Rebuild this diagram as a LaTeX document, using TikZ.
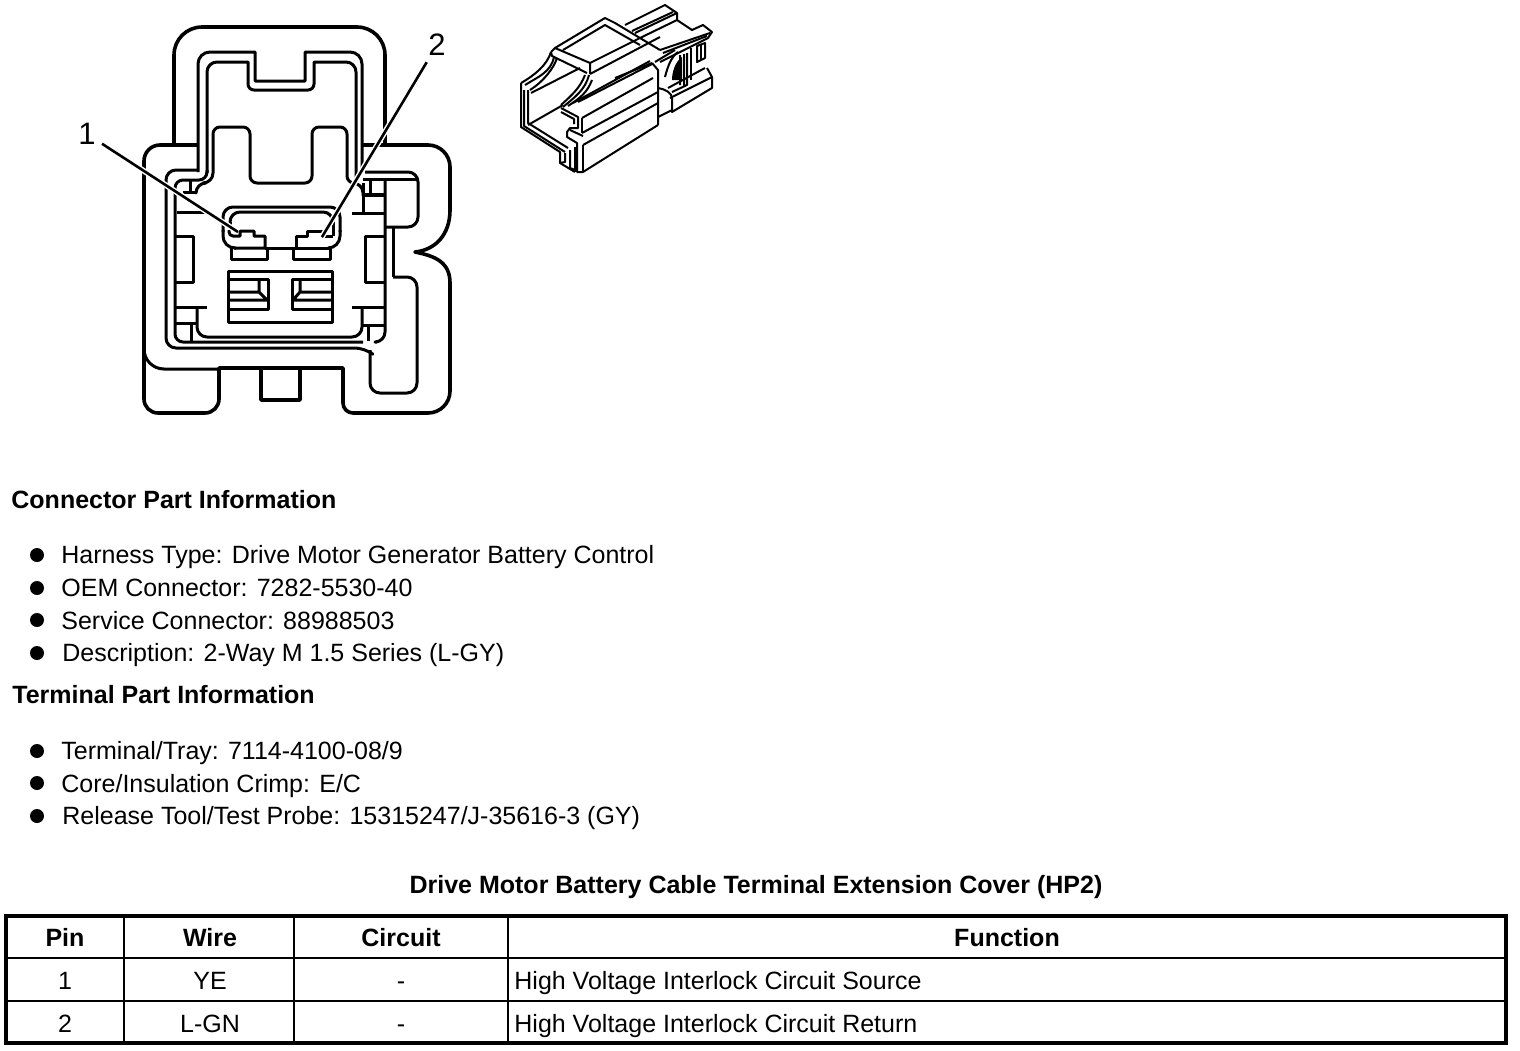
\documentclass[tikz,border=0pt]{standalone}
\usepackage{fontspec}
\setmainfont{Liberation Sans}
\tikzset{
  heavy/.style={line width=1.8pt,line join=round},
  medium/.style={line width=1.5pt,line join=round},
  fine/.style={line width=1pt,line join=round},
  leader/.style={line width=1.3pt,preaction={draw=white,line width=2.8pt}},
  lbl/.style={inner sep=3pt,font=\fontsize{15.5}{18}\selectfont},
  txt/.style={anchor=base west,inner sep=0pt,font=\fontsize{12.5}{14}\selectfont},
  hdr/.style={anchor=base west,inner sep=0pt,font=\bfseries\fontsize{12.5}{14}\selectfont},
  cell/.style={anchor=base,inner sep=0pt,font=\fontsize{12.5}{14}\selectfont},
  headcell/.style={anchor=base,inner sep=0pt,font=\bfseries\fontsize{12.5}{14}\selectfont},
  dot/.style={circle,fill=black,inner sep=0pt,minimum size=7pt},
}
\begin{document}
\begin{tikzpicture}[x=0.5pt,y=-0.5pt]
  \useasboundingbox (0,0) rectangle (1520,1050);

  % housing outline
  \draw[heavy,rounded corners=14pt] (174,143) -- (174,27) -- (385,27) -- (385,143);
  \draw[heavy] (198,145) [rounded corners=8pt] -- (144,145) [rounded corners=7pt] -- (144,413) -- (219,413)
     [sharp corners] -- (219,368) -- (343,368) [rounded corners=5pt] -- (343,413) [rounded corners=11pt] -- (450,413) -- (450,283);
  \draw[heavy] (450,283) .. controls (450,262) and (435,256) .. (415,252)
     .. controls (435,250) and (450,235) .. (450,210);
  \draw[heavy,rounded corners=11pt] (450,210) -- (450,145) -- (362,145);
  \draw[heavy] (261,368) -- (261,400) -- (300,400) -- (300,368);
  \draw[medium,rounded corners=10pt] (144,345) -- (144,369) -- (219,369);

  % double walls
  \draw[medium] (198,172) [rounded corners=6pt] -- (198,52) [sharp corners] -- (255,52) -- (255,81) -- (305,81)
     -- (305,52) [rounded corners=6pt] -- (362,52) -- (362,172);
  \draw[medium,rounded corners=5pt] (198,170) -- (166,170) -- (166,348) -- (365,348) [sharp corners] -- (370,352);
  \draw[medium] (207,173) [rounded corners=5pt] -- (207,62) [sharp corners] -- (248,62) [rounded corners=3pt] -- (248,90) -- (314,90)
     [sharp corners] -- (314,62) [rounded corners=5pt] -- (356,62) -- (356,178);
  \draw[medium,rounded corners=4pt] (207,170) -- (207,180) -- (175,180) -- (175,342) -- (363,342);
  \draw[medium,rounded corners=5pt] (377,342) -- (385,342) -- (385,179);
  \draw[medium] (370,350) [rounded corners=5pt] -- (370,393) -- (417,393) -- (417,277) -- (393,277);
  \draw[medium] (385,227) [rounded corners=5pt] -- (418,227) -- (418,172) [sharp corners] -- (365,172);
  \draw[medium] (363,179) -- (418,179);
  \draw[medium] (393,227) -- (393,277);

  % inner shell
  \draw[medium,rounded corners=5pt] (197,307) -- (197,337) -- (362,337) -- (362,307);
  \draw[medium] (196,192) [rounded corners=5pt] -- (196,183) -- (213,183) [rounded corners=3.5pt] -- (213,127) -- (250,127)
     -- (250,183) -- (312,183) -- (312,127) -- (347,127) -- (347,183) [rounded corners=5pt] -- (363,183) -- (363,196);

  % ribs
  \draw[medium] (190,180) -- (190,192) (183,192) -- (196,192) (177,212) -- (207,212);
  \draw[medium] (363,183) -- (363,213) (370,179) -- (370,195) (352,213) -- (385,213);
  \draw[line width=2pt] (363,195) -- (385,195);
  \draw[medium] (175,236) -- (193,236) -- (193,282) -- (175,282);
  \draw[medium] (385,236) -- (365,236) -- (365,282) -- (385,282);
  \draw[medium] (175,307) -- (207,307) (175,323) -- (197,323) (191,323) -- (191,341);
  \draw[medium] (352,307) -- (385,307) (363,325) -- (385,325) (368,325) -- (368,341);

  % pin cavities
  \draw[medium,rounded corners=5pt] (223,232) -- (223,207) -- (340,207) -- (340,232);
  \draw[medium,rounded corners=5pt] (230,223) -- (230,212) -- (333,212) -- (333,223);
  \draw[medium] (230,222) -- (230,230) (333,222) -- (333,236);
  \draw[medium,rounded corners=6pt] (223,230) -- (223,248) -- (236,248);
  \draw[medium,rounded corners=6pt] (340,230) -- (340,248) -- (328,248);
  \draw[medium] (229,230) [rounded corners=2pt] -- (229,236) [sharp corners] -- (240,236) -- (240,231) -- (254,231) -- (254,236) -- (265,236) -- (265,248) -- (234,248);
  \draw[medium] (333,236) -- (322,236) -- (322,231) -- (307,231) -- (307,236) -- (296,236) -- (296,248) -- (330,248);
  \draw[medium] (265,248) -- (297,248);
  \draw[medium] (231,248) -- (231,259) -- (267,259) -- (267,248);
  \draw[medium] (293,248) -- (293,259) -- (330,259) -- (330,248);

  % latch block
  \draw[medium] (228,271) rectangle (332,322);
  \draw[medium] (228,279) -- (268,279) -- (268,309) -- (228,309);
  \draw[medium] (332,279) -- (292,279) -- (292,309) -- (332,309);
  \draw[medium] (228,292) -- (259,292) -- (267,300) (228,300) -- (268,300) (259,279) -- (259,292);
  \draw[medium] (332,292) -- (300,292) -- (293,300) (332,300) -- (292,300) (300,279) -- (300,292);

  % callouts
  \node[lbl] (lblone) at (87,134) {1};
  \node[lbl] (lbltwo) at (437,45) {2};
  \coordinate (pinone) at (238,232);
  \coordinate (pintwo) at (322,237);
  \draw[leader] (lblone) -- (pinone);
  \draw[leader] (lbltwo) -- (pintwo);

  % 3d view of the connector
  % opening
  \draw[fine] (521,83) -- (521,127) -- (560,152) -- (560,163) -- (575,172);
  \draw[fine] (524,90) -- (524,126) -- (565,152);
  \draw[fine] (528,90) -- (528,123) -- (568,148);
  \draw[fine] (528,125) -- (563,105);
  \draw[fine] (531,93) -- (580,68);
  \draw[fine] (521,83) .. controls (535,75) and (547,65) .. (551,52);
  \draw[fine] (525,85) .. controls (538,77) and (551,72) .. (554,57);
  \draw[fine] (530,90) .. controls (543,82) and (554,68) .. (557,58);
  % top plate
  \draw[fine] (551,52) -- (555,48) -- (590,63) -- (590,74);
  \draw[fine] (551,52) -- (552,56) -- (587,73);
  \draw[fine] (555,48) -- (605,18) -- (615,23) -- (640,38) -- (660,50);
  \draw[fine] (563,50) -- (605,25) -- (640,45);
  \draw[fine] (590,63) -- (640,38);
  \draw[fine] (590,74) -- (660,37);
  % wedge
  \draw[fine] (589,75) .. controls (585,90) and (575,97) .. (563,107);
  \draw[fine] (585,75) .. controls (580,88) and (572,95) .. (561,105);
  \draw[fine] (592,80) .. controls (587,93) and (580,98) .. (568,106);
  \draw[fine] (573,103) -- (650,61);
  \draw[fine] (578,102) -- (652,64);
  % front block
  \draw[fine] (561,108) -- (578,117) -- (578,128) -- (570,128) -- (567,132) -- (567,137) -- (577,143) -- (577,172) -- (583,172) -- (658,125);
  \draw[fine] (561,112) -- (574,119) -- (574,124);
  \draw[fine] (582,118) -- (582,133);
  \draw[fine] (583,145) -- (583,172);
  \draw[fine] (570,130) -- (583,136);
  \draw[fine] (582,118) -- (653,78);
  \draw[fine] (582,133) -- (658,92);
  \draw[fine] (583,145) -- (658,103);
  \draw[fine] (575,147) -- (575,172);
  \draw[fine] (570,150) -- (570,168) -- (575,170);
  \draw[fine] (560,163) -- (565,162) -- (565,153);
  % body end
  \draw[fine] (652,63) -- (658,70) -- (658,125);
  \draw[fine] (658,117) -- (672,110);
  \draw[fine] (615,78) -- (652,63);
  \draw[fine] (658,88) .. controls (665,89) and (672,93) .. (672,98);
  % rear
  \draw[fine] (625,25) -- (665,5) -- (677,13) -- (677,20) -- (692,30) -- (703,25) -- (712,32) -- (708,38) -- (660,62);
  \draw[fine] (632,31) -- (673,12);
  \draw[fine] (635,33) -- (677,13);
  \draw[fine] (640,38) -- (677,20);
  \draw[fine] (660,50) -- (710,33);
  \draw[fine] (663,53) -- (707,36);
  \draw[fine] (655,62) -- (675,50);
  % window
  \draw[fine] (665,77) .. controls (668,65) and (672,56) .. (678,52);
  \fill (672,80) .. controls (672,72) and (675,62) .. (682,57) -- (682,80) -- cycle;
  \draw[fine] (680,55) -- (680,85) (684,54) -- (684,86) (687,53) -- (687,85) -- (672,92);
  \draw[fine] (691,48) -- (691,80);
  \draw[fine] (697,46) -- (697,62) -- (705,58) -- (705,43) -- cycle;
  \draw[fine] (701,45) -- (701,60);
  % lower rear
  \draw[fine] (668,88) -- (705,68);
  \draw[fine] (670,98) -- (712,77) -- (707,68);
  \draw[fine] (712,77) -- (712,88) -- (672,112) -- (672,98);

  % part information
  \node[hdr] (connhdr) at (11,508) {Connector Part Information};
  \node[dot] (dota) at (37,555) {};
  \node[txt] (harness) at (61,563) {Harness Type: Drive Motor Generator Battery Control};
  \node[dot] (dotb) at (37,588) {};
  \node[txt] (oem) at (61,596) {OEM Connector: 7282-5530-40};
  \node[dot] (dotc) at (37,620) {};
  \node[txt] (service) at (61,629) {Service Connector: 88988503};
  \node[dot] (dotd) at (37,653) {};
  \node[txt] (descr) at (62,661) {Description: 2-Way M 1.5 Series (L-GY)};
  \node[hdr] (termhdr) at (12,703) {Terminal Part Information};
  \node[dot] (dote) at (37,751) {};
  \node[txt] (tray) at (61,759) {Terminal/Tray: 7114-4100-08/9};
  \node[dot] (dotf) at (37,783) {};
  \node[txt] (crimp) at (61,792) {Core/Insulation Crimp: E/C};
  \node[dot] (dotg) at (37,816) {};
  \node[txt] (tool) at (62,824) {Release Tool/Test Probe: 15315247/J-35616-3 (GY)};

  % pin table
  \node[headcell] (tabletitle) at (756,893) {Drive Motor Battery Cable Terminal Extension Cover (HP2)};
  \draw[line width=1.6pt] (6,916) rectangle (1506,1043);
  \draw[line width=1.1pt] (6,958) -- (1506,958) (6,1001) -- (1506,1001);
  \foreach \colx in {124,294,508}
    \draw[line width=1.1pt] (\colx,916) -- (\colx,1043);
  \node[headcell] (pinh) at (65,946) {Pin};
  \node[headcell] (wireh) at (210,946) {Wire};
  \node[headcell] (circh) at (401,946) {Circuit};
  \node[headcell] (funch) at (1007,946) {Function};
  \node[cell] (pina) at (65,989) {1};
  \node[cell] (wirea) at (210,989) {YE};
  \node[cell] (circa) at (401,989) {-};
  \node[txt] (funca) at (514,989) {High Voltage Interlock Circuit Source};
  \node[cell] (pinb) at (65,1032) {2};
  \node[cell] (wireb) at (210,1032) {L-GN};
  \node[cell] (circb) at (401,1032) {-};
  \node[txt] (funcb) at (514,1032) {High Voltage Interlock Circuit Return};
\end{tikzpicture}
\end{document}
